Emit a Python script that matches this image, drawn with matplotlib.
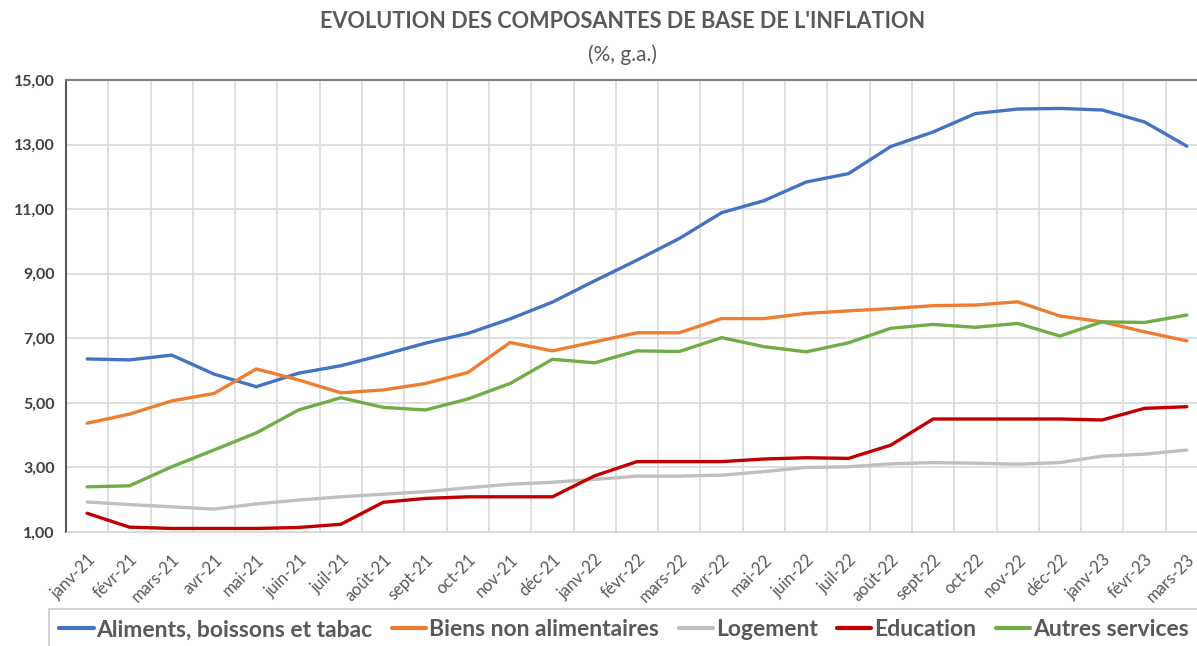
import matplotlib.pyplot as plt
from matplotlib.ticker import FuncFormatter

plt.rcParams['font.family'] = ['Lato', 'DejaVu Sans']

months = ['janv-21', 'févr-21', 'mars-21', 'avr-21', 'mai-21', 'juin-21', 'juil-21',
          'août-21', 'sept-21', 'oct-21', 'nov-21', 'déc-21', 'janv-22', 'févr-22',
          'mars-22', 'avr-22', 'mai-22', 'juin-22', 'juil-22', 'août-22', 'sept-22',
          'oct-22', 'nov-22', 'déc-22', 'janv-23', 'févr-23', 'mars-23']

aliments = [6.36, 6.33, 6.48, 5.89, 5.50, 5.92, 6.15, 6.49, 6.85, 7.15, 7.60, 8.12,
            8.78, 9.42, 10.09, 10.89, 11.26, 11.84, 12.10, 12.94, 13.39, 13.96,
            14.10, 14.12, 14.07, 13.70, 12.95]
biens = [4.37, 4.65, 5.06, 5.29, 6.05, 5.71, 5.31, 5.40, 5.60, 5.94, 6.87, 6.61,
         6.89, 7.17, 7.17, 7.61, 7.61, 7.77, 7.85, 7.92, 8.01, 8.03, 8.13, 7.69,
         7.51, 7.20, 6.92]
logement = [1.93, 1.85, 1.78, 1.71, 1.87, 1.99, 2.09, 2.17, 2.25, 2.37, 2.48, 2.54,
            2.63, 2.73, 2.73, 2.76, 2.87, 3.00, 3.02, 3.11, 3.15, 3.13, 3.10, 3.15,
            3.35, 3.41, 3.54]
education = [1.58, 1.15, 1.11, 1.11, 1.11, 1.14, 1.24, 1.92, 2.04, 2.09, 2.09, 2.09,
             2.74, 3.18, 3.18, 3.18, 3.26, 3.30, 3.28, 3.69, 4.50, 4.50, 4.50, 4.50,
             4.47, 4.83, 4.88]
autres = [2.40, 2.43, 3.02, 3.54, 4.07, 4.78, 5.16, 4.86, 4.78, 5.12, 5.60, 6.35,
          6.24, 6.61, 6.59, 7.02, 6.74, 6.58, 6.86, 7.31, 7.43, 7.34, 7.46, 7.07,
          7.51, 7.49, 7.72]

series = [
    ('Aliments, boissons et tabac', aliments, '#4472C4'),
    ('Biens non alimentaires', biens, '#ED7D31'),
    ('Logement', logement, '#BFBFBF'),
    ('Education', education, '#C00000'),
    ('Autres services', autres, '#70AD47'),
]

fig = plt.figure(figsize=(11.97, 6.46), dpi=100)
ax = fig.add_axes([66 / 1197, 1 - 532 / 646, 1142 / 1197, 452 / 646])

x = list(range(len(months)))
for name, vals, col in series:
    ax.plot(x, vals, color=col, lw=2.4, label=name, solid_capstyle='round')

ax.set_xlim(-0.5, len(months) - 0.5)
ax.set_ylim(1, 15)
ax.set_yticks([1, 3, 5, 7, 9, 11, 13, 15])
ax.yaxis.set_major_formatter(FuncFormatter(lambda v, p: f'{v:.2f}'.replace('.', ',')))

# vertical grid between categories
for k in range(len(months) + 1):
    ax.axvline(k - 0.5, color='#D9D9D9', lw=1.2, zorder=0)
ax.grid(axis='y', color='#D9D9D9', lw=1.2, zorder=0)
ax.set_axisbelow(True)

ax.set_xticks(x)
ax.set_xticklabels(months, rotation=45, ha='right', rotation_mode='anchor',
                   fontsize=12, color='#595959')
ax.tick_params(axis='x', length=0, pad=14)
ax.tick_params(axis='y', length=0, pad=8, labelsize=11.5, labelcolor='#404040')
for lab in ax.get_yticklabels():
    lab.set_fontweight('bold')

ax.spines['left'].set_color('#595959')
ax.spines['left'].set_linewidth(1.5)
ax.spines['top'].set_color('#808080')
ax.spines['top'].set_linewidth(1.5)
ax.spines['bottom'].set_color('#D9D9D9')
ax.spines['right'].set_visible(False)

fig.text(623 / 1197, 1 - 22 / 646, "EVOLUTION DES COMPOSANTES DE BASE DE L'INFLATION",
         ha='center', va='center', fontsize=15.6, fontweight='bold', color='#595959')
fig.text(623 / 1197, 1 - 55 / 646, '(%, g.a.)', ha='center', va='center',
         fontsize=15, color='#595959')

leg = fig.legend(loc='upper left', bbox_to_anchor=(49 / 1197, 1 - 609 / 646),
                 ncol=5, frameon=True, fancybox=False, handlelength=1.5,
                 handletextpad=0.12, columnspacing=0.85, borderpad=0.45,
                 borderaxespad=0, prop={'size': 16.5, 'weight': 'bold'})
leg.get_frame().set_edgecolor('#BFBFBF')
leg.get_frame().set_linewidth(1.2)
for t in leg.get_texts():
    t.set_color('#595959')
for h in leg.get_lines():
    h.set_linewidth(3)

fig.savefig('out.png', dpi=100)
